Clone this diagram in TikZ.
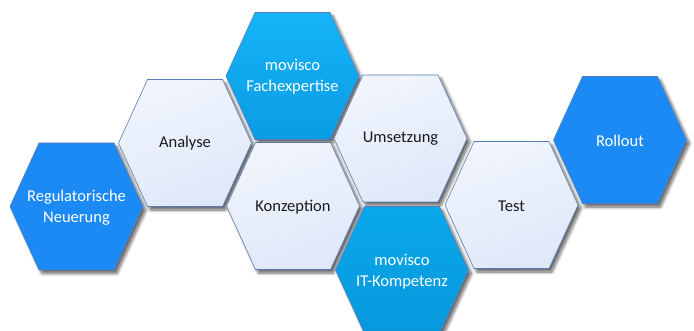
\documentclass[tikz,border=0pt]{standalone}
\usepackage{fontspec}
\setmainfont{Carlito}
\usetikzlibrary{shadows.blur}
\definecolor{hexedge}{HTML}{5A7CB6}
\definecolor{lighttop}{HTML}{F0F5FD}
\definecolor{lightbot}{HTML}{DFE8F9}
\definecolor{deepblue}{HTML}{1B8AF4}
\definecolor{cyantop}{HTML}{16B4F9}
\definecolor{cyanbot}{HTML}{099CE4}
\definecolor{ittop}{HTML}{08A8EA}
\definecolor{itbot}{HTML}{0798DC}
\definecolor{darktext}{HTML}{1A1A1A}
\tikzset{
  shadowpass/.style={fill=white, draw=none, blur shadow={shadow xshift=3pt, shadow yshift=-3.5pt, shadow blur steps=8, shadow blur radius=3pt, shadow opacity=60}},
  hexbase/.style={draw=hexedge, line width=0.6pt, line join=miter},
  lighthex/.style={hexbase, top color=lighttop, bottom color=lightbot, shading angle=20},
  deephex/.style={hexbase, fill=deepblue},
  cyanhex/.style={hexbase, top color=cyantop, bottom color=cyanbot},
  ithex/.style={hexbase, top color=ittop, bottom color=itbot},
  hextext/.style={font=\fontsize{16.5}{21}\selectfont, align=center, inner sep=0pt},
  darkt/.style={hextext, text=darktext},
  whitet/.style={hextext, text=white}
}
\newcommand\hexagonat[3]{%
  \path[#3, shift={(#1,#2)}] (-66.5,0) -- (-37.5,-63.5) -- (37.5,-63.5) -- (66.5,0) -- (37.5,63.5) -- (-37.5,63.5) -- cycle;}
\begin{document}
\begin{tikzpicture}[x=1pt, y=-1pt]
\useasboundingbox (0,0) rectangle (694,331);
% shadow pass
\foreach \cx/\cy in {76.5/206.5, 185/143, 292.5/76, 293/206, 400.5/138.5, 402/270, 511.5/205, 620/140}{
  \hexagonat{\cx}{\cy}{shadowpass}
}
% shapes
\hexagonat{76.5}{206.5}{deephex}
\hexagonat{185}{143}{lighthex}
\hexagonat{292.5}{76}{cyanhex}
\hexagonat{293}{206}{lighthex}
\hexagonat{400.5}{138.5}{lighthex}
\hexagonat{402}{270}{ithex}
\hexagonat{511.5}{205}{lighthex}
\hexagonat{620}{140}{deephex}
% labels
\node[whitet] (reg) at (76.5,208) {Regulatorische\\Neuerung};
\node[darkt] (ana) at (185,143) {Analyse};
\node[whitet] (fach) at (292.5,77) {movisco\\Fachexpertise};
\node[darkt] (konz) at (293,207) {Konzeption};
\node[darkt] (ums) at (400.5,139) {Umsetzung};
\node[whitet] (itk) at (402,272) {movisco\\IT-Kompetenz};
\node[darkt] (test) at (511.5,206) {Test};
\node[whitet] (roll) at (620,141) {Rollout};
\end{tikzpicture}
\end{document}
